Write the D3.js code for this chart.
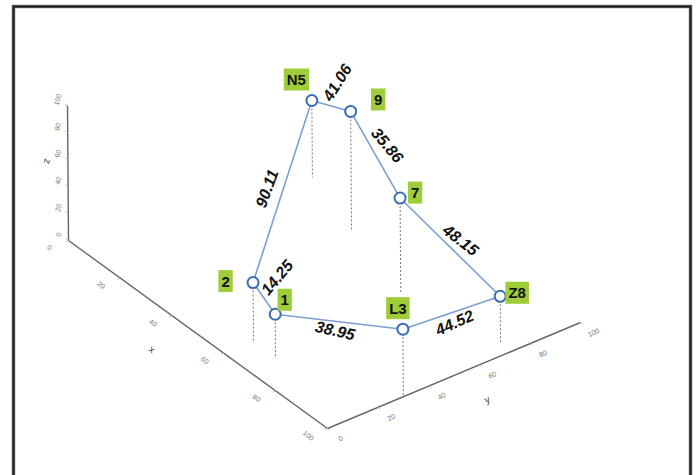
<!DOCTYPE html>
<html><head><meta charset="utf-8">
<script src="https://cdn.jsdelivr.net/npm/d3@7"></script>
<style>body{margin:0;background:#fff}svg{display:block}</style>
</head><body><svg id="c" width="700" height="475"></svg>
<script>
// ---- data ----
const nodeNames = ["N5", "9", "7", "Z8", "L3", "1", "2"];
const nodeX = [13.2, 37.0, 64.5, 95.8, 100, 68.7, 59.9];
const nodeY = [82.9, 74.0, 65.3, 72.7, 30.0, 11.5, 11.8];
const nodeZ = [57, 89, 70, 35, 50, 32, 43];
const edgeFrom = ["2", "N5", "9", "7", "Z8", "L3", "1"];
const edgeTo = ["N5", "9", "7", "Z8", "L3", "1", "2"];
const edgeValues = ["90.11", "41.06", "35.86", "48.15", "44.52", "38.95", "14.25"];
const tickValues = [0, 20, 40, 60, 80, 100];
const axisTitles = ["x", "y", "z"];

// ---- layout (pixels) ----
const origin = [68.5, 240.5];
const xS = d3.scaleLinear().domain([0, 100]).range([[0, 0], [259, 188]]);
const yS = d3.scaleLinear().domain([0, 100]).range([[0, 0], [253, -106]]);
const zS = d3.scaleLinear().domain([0, 100]).range([[0, 0], [-1, -135]]);
function proj(x, y, z) {
  const a = xS(x), b = yS(y), c = zS(z);
  return [origin[0] + a[0] + b[0] + c[0], origin[1] + a[1] + b[1] + c[1]];
}
const nodeLabelOff = {"N5": [-15.5, -21], "9": [27.5, -12], "7": [15, -5.5], "Z8": [17, -3.5], "L3": [-5, -21], "1": [9.5, -14.5], "2": [-27.5, -1.5]};
const edgeLabelLayout = [[-15.5, -3, -70], [6, -23.5, -58], [12, -9.5, 50], [10.5, -7, 38], [3, 10, -24], [-4, 9, 13], [13, -21, -50]];

const svg = d3.select("#c");
// frame
svg.append("rect").attr("x", 13.5).attr("y", 6.5).attr("width", 677).attr("height", 480)
  .attr("fill", "none").attr("stroke", "#bbb").attr("stroke-width", 4);
svg.append("rect").attr("x", 13.5).attr("y", 6.5).attr("width", 677).attr("height", 480)
  .attr("fill", "none").attr("stroke", "#222").attr("stroke-width", 2.5);

const axG = svg.append("g");
const axisDefs = [
  {name: "x", p: v => proj(v, 0, 0), lab: [-19, 7], rot: 36, title: [-46, 15, 50]},
  {name: "y", p: v => proj(100, v, 0), lab: [13, 10], rot: -25, title: [33, 24, 50]},
  {name: "z", p: v => proj(0, 0, v), lab: [-10, -6], rot: -75, title: [-22, -12, 50]}
];
axisDefs.forEach((a, i) => {
  const p0 = a.p(0), p1 = a.p(100);
  axG.append("line").attr("x1", p0[0]).attr("y1", p0[1]).attr("x2", p1[0]).attr("y2", p1[1])
    .attr("stroke", "#666").attr("stroke-width", 1.4);
  tickValues.forEach(t => {
    const p = a.p(t);
    const len = Math.hypot(a.lab[0], a.lab[1]);
    const ux = a.lab[0] / len, uy = a.lab[1] / len;
    axG.append("line").attr("x1", p[0]).attr("y1", p[1]).attr("x2", p[0] + ux * 3).attr("y2", p[1] + uy * 3)
      .attr("stroke", "#bbb").attr("stroke-width", 1);
    axG.append("text").attr("transform", `translate(${p[0] + a.lab[0]},${p[1] + a.lab[1]}) rotate(${a.rot})`)
      .attr("text-anchor", "middle").attr("dominant-baseline", "central")
      .attr("font-family", "Liberation Sans, Arial, sans-serif").attr("font-size", 7).attr("fill", "#777")
      .text(t);
  });
  const tp = a.p(a.title[2]);
  axG.append("text").attr("transform", `translate(${tp[0] + a.title[0]},${tp[1] + a.title[1]}) rotate(${a.rot})`)
    .attr("text-anchor", "middle").attr("dominant-baseline", "central")
    .attr("font-family", "Liberation Sans, Arial, sans-serif").attr("font-size", 10).attr("fill", "#444")
    .text(axisTitles[i]);
});

const nodes = nodeNames.map((n, i) => ({name: n, x: nodeX[i], y: nodeY[i], z: nodeZ[i],
  p: proj(nodeX[i], nodeY[i], nodeZ[i]), f: proj(nodeX[i], nodeY[i], 0)}));
const byName = Object.fromEntries(nodes.map(d => [d.name, d]));

// drop lines
svg.append("g").selectAll("line").data(nodes).join("line")
  .attr("x1", d => d.p[0]).attr("y1", d => d.p[1]).attr("x2", d => d.f[0]).attr("y2", d => d.f[1])
  .attr("stroke", "#777").attr("stroke-width", 1).attr("stroke-dasharray", "2,2");

// edges
const edges = edgeFrom.map((f, i) => ({a: byName[f], b: byName[edgeTo[i]], v: edgeValues[i], L: edgeLabelLayout[i]}));
svg.append("g").selectAll("line").data(edges).join("line")
  .attr("x1", d => d.a.p[0]).attr("y1", d => d.a.p[1]).attr("x2", d => d.b.p[0]).attr("y2", d => d.b.p[1])
  .attr("stroke", "#7d9fd0").attr("stroke-width", 1.6);

// edge labels
svg.append("g").selectAll("text").data(edges).join("text")
  .attr("transform", d => {
    const mx = (d.a.p[0] + d.b.p[0]) / 2 + d.L[0], my = (d.a.p[1] + d.b.p[1]) / 2 + d.L[1];
    return `translate(${mx},${my}) rotate(${d.L[2]})`;
  })
  .attr("text-anchor", "middle").attr("dominant-baseline", "central")
  .attr("font-family", "Liberation Sans, Arial, sans-serif").attr("font-size", 16)
  .attr("font-weight", "bold").attr("font-style", "italic").attr("fill", "#111")
  .text(d => d.v);

// circles
svg.append("g").selectAll("circle").data(nodes).join("circle")
  .attr("cx", d => d.p[0]).attr("cy", d => d.p[1]).attr("r", 5.5)
  .attr("fill", "#fff").attr("stroke", "#3a6db4").attr("stroke-width", 2);

// node labels
const lg = svg.append("g").selectAll("g").data(nodes).join("g")
  .attr("transform", d => `translate(${d.p[0] + nodeLabelOff[d.name][0]},${d.p[1] + nodeLabelOff[d.name][1]})`);
lg.append("text").attr("text-anchor", "middle").attr("dominant-baseline", "central")
  .attr("font-family", "Liberation Sans, Arial, sans-serif").attr("font-size", 15).attr("font-weight", "bold")
  .attr("fill", "#111").text(d => d.name);
lg.each(function () {
  const g = d3.select(this);
  const bb = g.select("text").node().getBBox();
  g.insert("rect", "text").attr("x", bb.x - 3).attr("y", -11).attr("width", bb.width + 6).attr("height", 22)
    .attr("fill", "#9fcd3a");
});
</script></body></html>
